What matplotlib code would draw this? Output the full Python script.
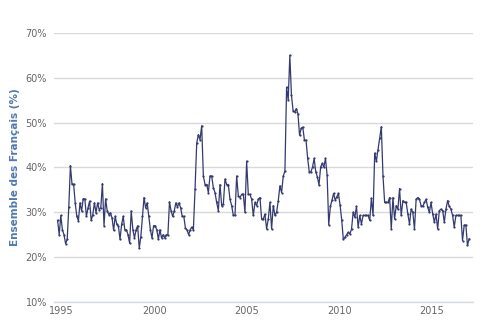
import numpy as np
import matplotlib
matplotlib.use("Agg")
import matplotlib.pyplot as plt

# Segments of (roughly monthly) readings: start year, end year, values (%)
seg_a_span = (1994.78, 1998.76)
seg_a = [28.2, 25, 29.3, 26.1, 25, 23, 24, 31.2, 40.4, 36.3, 36.3, 32.1, 29.1, 28.1, 32.1,
         30.3, 33, 33, 29.1, 31, 32.5, 28.2, 29.5, 32.1, 29.9, 32.1, 30.6, 31, 36.4, 27, 33,
         30.3, 29.5, 29.9, 28.8, 26, 29.1, 27.3, 26.9, 24, 27.3, 29.1, 26.1, 26.1, 25, 23.1, 30.3]

seg_b_span = (1998.85, 2002.12)
seg_b = [26.1, 24.3, 26.1, 27, 22, 24.6, 29.1, 33.3, 31, 32.1, 29.1, 26.1, 24.3, 27, 27,
         26.1, 24, 26.1, 24.3, 25, 24.3, 25, 25, 32.3, 30.3, 29.1, 30.3, 32.1, 31.2, 32.1,
         31, 29.1, 29.1, 26.5, 26.1, 25, 26.1, 26.7, 26.1]

seg_c_span = (2002.21, 2007.07)
seg_c = [35.1, 45.4, 47.3, 46.2, 49.3, 38.1, 36.2, 36.2, 34.4, 38.1, 38.1, 35.5, 34.4, 32.2,
         30.4, 36.2, 31.5, 31.8, 37.4, 36.2, 36.2, 32.9, 31.5, 29.3, 29.3, 38.1, 33.7, 33.3,
         34.0, 34.0, 30.0, 41.4, 34.0, 34.0, 32.9, 29.3, 32.2, 31.5, 32.9, 33.3, 28.5, 28.5,
         29.6, 26.3, 28.5, 32.2, 26.3, 31.5, 29.3, 30.0, 32.6, 35.9, 34.4, 38.1, 39.2]

seg_d_span = (2007.16, 2010.49)
seg_d = [57.9, 55.0, 65.0, 56.1, 52.7, 52.4, 53.1, 52.0, 47.2, 48.7, 49.0, 46.1, 46.1, 42.0,
         39.0, 39.0, 40.1, 42.0, 39.0, 37.9, 36.1, 40.1, 40.9, 40.1, 42.0, 38.3, 27.2, 31.3,
         32.7, 34.2, 32.7, 33.5, 34.2, 31.6, 28.3, 24.0, 24.4, 25.0, 25.5]

seg_e_span = (2010.58, 2017.03)
seg_e = [25.2, 26.2, 30.0, 28.9, 31.3, 26.7, 29.3, 27.4, 29.3, 29.3, 29.3, 29.3, 28.2, 33.1,
         29.3, 43.2, 41.4, 44.0, 46.5, 49.1, 38.1, 32.2, 32.2, 32.2, 33.3, 26.3, 33.3, 28.5,
         31.5, 30.7, 35.3, 29.3, 32.6, 32.2, 32.2, 29.6, 27.4, 30.7, 30.0, 26.3, 32.9, 33.3,
         32.9, 31.5, 31.3, 32.2, 32.9, 31.1, 30.0, 32.2, 29.6, 27.8, 29.6, 26.3, 30.4, 30.7,
         30.4, 27.8, 30.7, 32.6, 31.3, 30.7, 29.3, 26.7, 29.3, 29.3, 29.3, 29.3, 23.7, 27.1,
         27.2, 22.6, 24.1]

x_ticks = [1995, 2000, 2005, 2010, 2015]
y_ticks = [10, 20, 30, 40, 50, 60, 70]
y_label = "Ensemble des Français (%)"

segments = [(seg_a_span, seg_a), (seg_b_span, seg_b), (seg_c_span, seg_c),
            (seg_d_span, seg_d), (seg_e_span, seg_e)]
xs, ys = [], []
for (s, e), vals in segments:
    xs.extend(np.linspace(s, e, len(vals)))
    ys.extend(vals)

fig = plt.figure(figsize=(4.9, 3.26), dpi=100)
ax = fig.add_axes([0.110, 0.0736, 0.855, 0.8254])

ax.plot(xs, ys, color="#343a70", lw=0.9, marker="o", ms=1.6, mew=0, zorder=3)

ax.set_xlim(1994.58, 2017.23)
ax.set_ylim(10, 70)
ax.set_xticks(x_ticks)
ax.set_xticklabels([str(t) for t in x_ticks])
ax.set_yticks(y_ticks)
ax.set_yticklabels([f"{t}%" for t in y_ticks])

ax.grid(axis="y", color="#d9d9d9", lw=1)
ax.set_axisbelow(True)
for side in ["top", "right", "left"]:
    ax.spines[side].set_visible(False)
ax.spines["bottom"].set_color("#d5dbe3")
ax.spines["bottom"].set_linewidth(1)

ax.tick_params(axis="both", length=0, labelsize=7, labelcolor="#666666")
ax.tick_params(axis="x", pad=3)
ax.tick_params(axis="y", pad=5)

ax.set_ylabel(y_label, color="#5078ad", fontsize=7.5, fontweight="bold", labelpad=4)

fig.savefig("out.png", dpi=100)
